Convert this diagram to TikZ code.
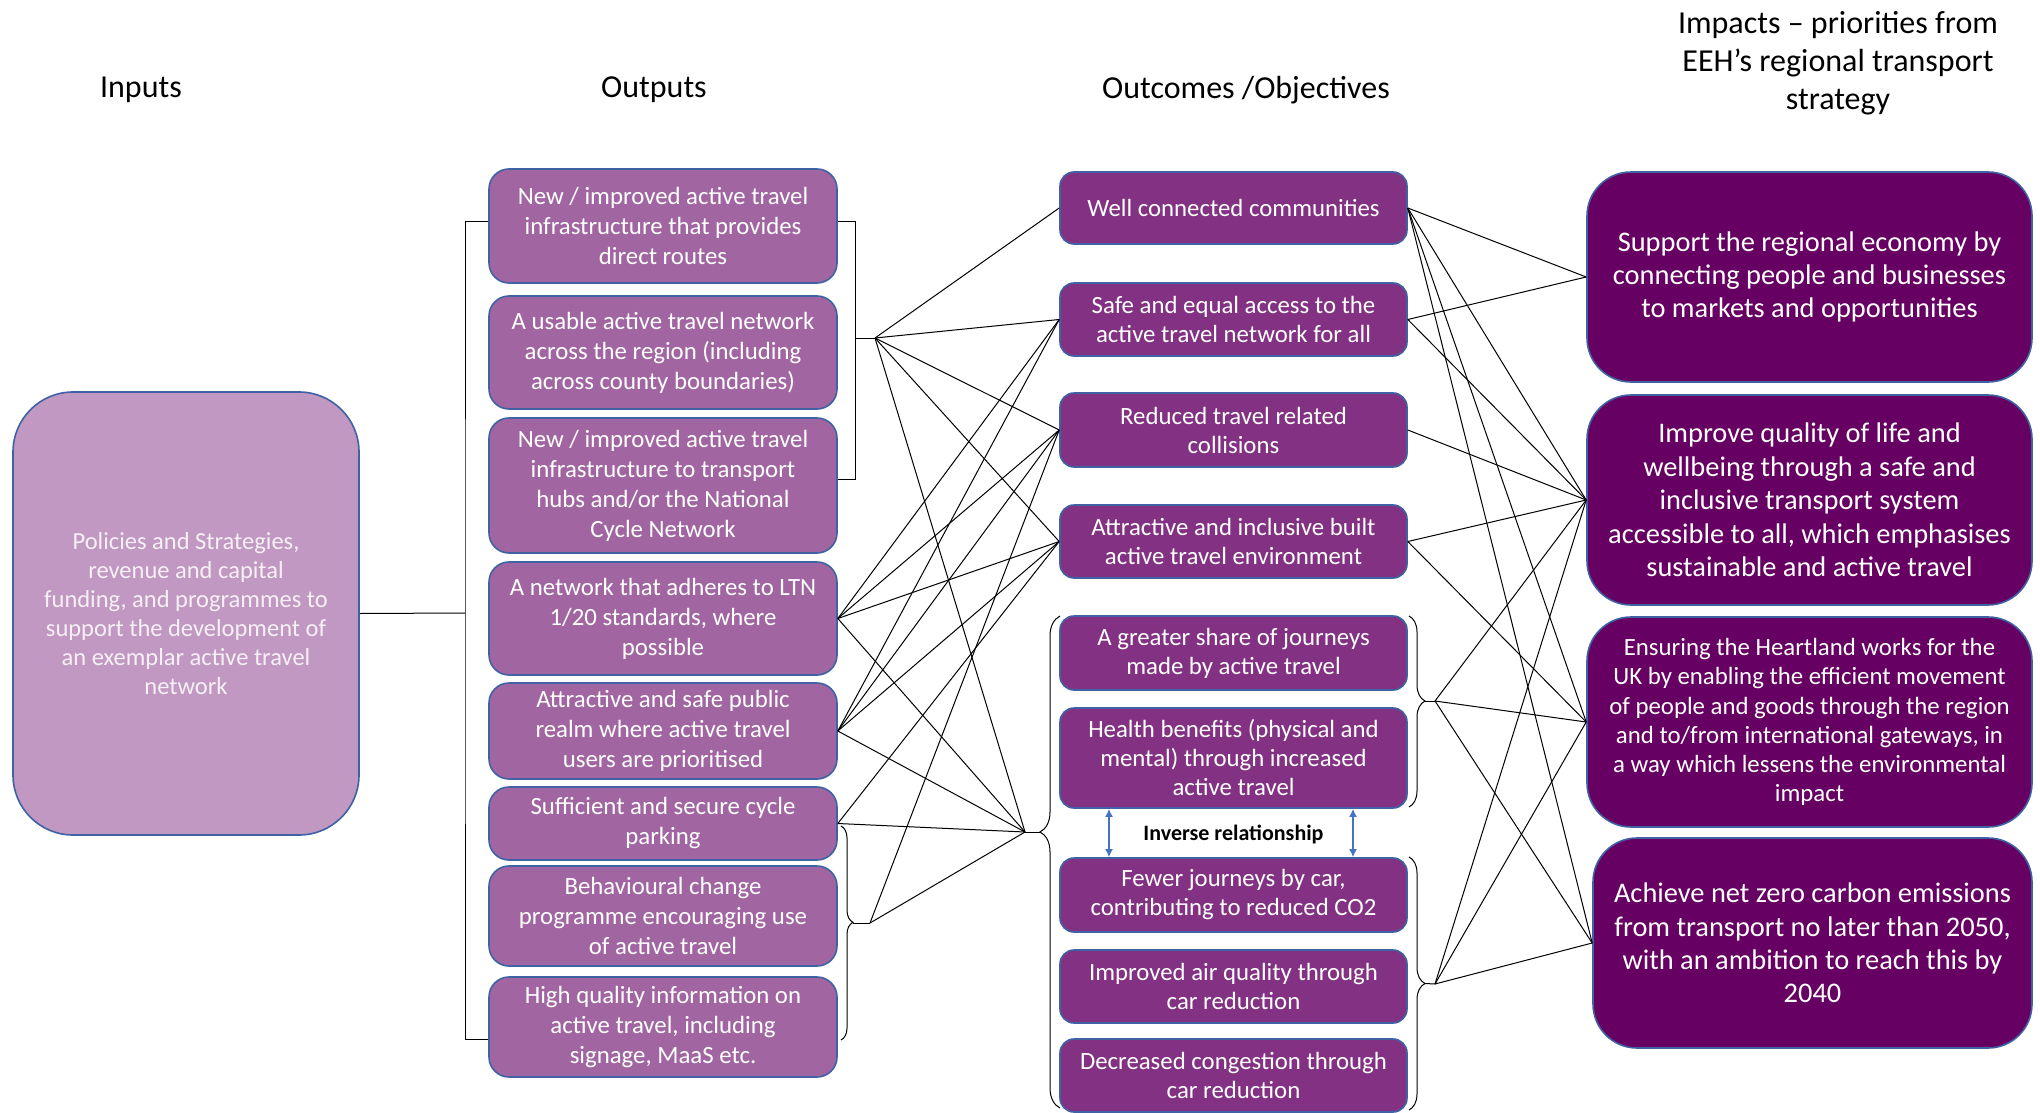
\documentclass[tikz,border=0pt]{standalone}
\usepackage{fontspec}
\setmainfont{Carlito}
\usetikzlibrary{decorations.pathreplacing,arrows.meta}

\definecolor{bordblue}{RGB}{62,98,164}
\definecolor{incol}{RGB}{193,152,194}
\definecolor{intext}{RGB}{246,240,246}
\definecolor{outcol}{RGB}{161,102,161}
\definecolor{occol}{RGB}{131,50,131}
\definecolor{imcol}{RGB}{102,0,98}
\definecolor{arrblue}{RGB}{68,114,196}

\tikzset{
	hdr/.style={align=center, font=\fontsize{16}{19}\selectfont},
	inbox/.style={draw=bordblue, line width=0.8pt, fill=incol, rounded corners=30pt,
		text=intext, align=center, inner sep=0pt, font=\fontsize{12.25}{14.5}\selectfont},
	outbox/.style={draw=bordblue, line width=0.8pt, fill=outcol, rounded corners=10pt,
		minimum width=174pt, text=white, align=center, inner sep=0pt,
		font=\fontsize{12.4}{15}\selectfont},
	ocbox/.style={draw=bordblue, line width=0.8pt, fill=occol, rounded corners=7pt,
		minimum width=173.5pt, text=white, align=center, inner sep=0pt,
		font=\fontsize{12.4}{14.5}\selectfont},
	imbox/.style={draw=bordblue, line width=0.8pt, fill=imcol, rounded corners=22pt,
		minimum height=105pt, text=white, align=center, inner sep=0pt,
		font=\fontsize{14.2}{16.7}\selectfont},
	link/.style={line width=0.5pt, black},
	brc/.style={decorate, decoration={brace, amplitude=#1}},
	invarr/.style={line width=0.8pt, arrblue, {Latex[length=4pt,width=4pt]}-{Latex[length=4pt,width=4pt]}}
}

\begin{document}
\begin{tikzpicture}[x=0.5pt,y=-0.5pt]
	\useasboundingbox (0,0) rectangle (2040,1113);

	% column headings
	\node[hdr] (hin) at (141,90) {Inputs};
	\node[hdr] (hout) at (654,90) {Outputs};
	\node[hdr] (hoc) at (1246,90) {Outcomes /Objectives};
	\node[hdr] (him) at (1838,63) {Impacts -- priorities from\\EEH’s regional transport\\strategy};

	% inputs
	\node[inbox, minimum width=173pt, minimum height=221.5pt] (in) at (186,613.5)
		{Policies and Strategies,\\revenue and capital\\funding, and programmes to\\support the development of\\an exemplar active travel\\network};

	% outputs
	\node[outbox, minimum height=57pt] (out1) at (663,226)
		{New / improved active travel\\infrastructure that provides\\direct routes};
	\node[outbox, minimum height=56.5pt] (out2) at (663,352.5)
		{A usable active travel network\\across the region (including\\across county boundaries)};
	\node[outbox, minimum height=67.5pt] (out3) at (663,485.5)
		{New / improved active travel\\infrastructure to transport\\hubs and/or the National\\Cycle Network};
	\node[outbox, minimum height=56.5pt] (out4) at (663,618.5)
		{A network that adheres to LTN\\1/20 standards, where\\possible};
	\node[outbox, minimum height=48pt] (out5) at (663,731)
		{Attractive and safe public\\realm where active travel\\users are prioritised};
	\node[outbox, minimum height=36.5pt] (out6) at (663,823.5)
		{Sufficient and secure cycle\\parking};
	\node[outbox, minimum height=50pt] (out7) at (663,916)
		{Behavioural change\\programme encouraging use\\of active travel};
	\node[outbox, minimum height=50pt] (out8) at (663,1027)
		{High quality information on\\active travel, including\\signage, MaaS etc.};

	% outcomes
	\node[ocbox, minimum height=36pt] (oc1) at (1233.5,208) {Well connected communities};
	\node[ocbox, minimum height=36.5pt] (oc2) at (1233.5,319.5)
		{Safe and equal access to the\\active travel network for all};
	\node[ocbox, minimum height=37pt] (oc3) at (1233.5,430)
		{Reduced travel related\\collisions};
	\node[ocbox, minimum height=36.5pt] (oc4) at (1233.5,541.5)
		{Attractive and inclusive built\\active travel environment};
	\node[ocbox, minimum height=37pt] (oc5) at (1233.5,653)
		{A greater share of journeys\\made by active travel};
	\node[ocbox, minimum height=50pt] (oc6) at (1233.5,758)
		{Health benefits (physical and\\mental) through increased\\active travel};
	\node[ocbox, minimum height=37pt] (oc7) at (1233.5,895)
		{Fewer journeys by car,\\contributing to reduced CO2};
	\node[ocbox, minimum height=36.5pt] (oc8) at (1233.5,986.5)
		{Improved air quality through\\car reduction};
	\node[ocbox, minimum height=36.5pt] (oc9) at (1233.5,1075.5)
		{Decreased congestion through\\car reduction};

	\node[font=\fontsize{11}{13}\selectfont\bfseries] (inv) at (1233.5,834) {Inverse relationship};
	\coordinate (ia) at (1109,0);
	\coordinate (ib) at (1353,0);
	\draw[invarr] (oc6.south -| ia) -- (oc7.north -| ia);
	\draw[invarr] (oc6.south -| ib) -- (oc7.north -| ib);

	% impacts
	\node[imbox, minimum width=222.5pt] (im1) at (1809.5,277)
		{Support the regional economy by\\connecting people and businesses\\to markets and opportunities};
	\node[imbox, minimum width=222.5pt] (im2) at (1809.5,500)
		{Improve quality of life and\\wellbeing through a safe and\\inclusive transport system\\accessible to all, which emphasises\\sustainable and active travel};
	\node[imbox, minimum width=222.5pt, font=\fontsize{12.4}{14.6}\selectfont] (im3) at (1809.5,722)
		{Ensuring the Heartland works for the\\UK by enabling the efficient movement\\of people and goods through the region\\and to/from international gateways, in\\a way which lessens the environmental\\impact};
	\node[imbox, minimum width=219.5pt] (im4) at (1812.5,943)
		{Achieve net zero carbon emissions\\from transport no later than 2050,\\with an ambition to reach this by\\2040};

	% bracket points
	\coordinate (inb) at (465,613);
	\coordinate (brA) at (855,338);
	\coordinate (p1) at (875,338);
	\coordinate (bB) at (853,923);
	\coordinate (p2) at (870,923);
	\coordinate (bC) at (1040,832);
	\coordinate (p3) at (1025,832);
	\coordinate (bD) at (1425,701);
	\coordinate (p4) at (1435,701);
	\coordinate (bE) at (1425,983.5);
	\coordinate (p5) at (1435,984);

	% brackets
	\draw[link] (in.east) -- (inb);
	\draw[link] ([yshift=2.5pt]out1.west) -| (inb) |- ([yshift=-6pt]out8.west);
	\draw[link] ([yshift=2.5pt]out1.east) -| (brA) |- ([yshift=3pt]out3.east);
	\draw[link] (brA) -- (p1);
	\draw[link, brc=6pt, decoration={aspect=0.45}] (841,826) -- (841,1040);
	\draw[link] (bB) -- (p2);
	\draw[link, brc=10pt, decoration={aspect=0.561}] (1060,1108) -- (1060,616);
	\draw[link] (bC) -- (p3);
	\draw[link, brc=8pt, decoration={aspect=0.445}] (1409,616) -- (1409,807);
	\draw[link] (bD) -- (p4);
	\draw[link, brc=8pt, decoration={aspect=0.5}] (1409,857) -- (1409,1110);
	\draw[link] (bE) -- (p5);

	% outputs to outcomes
	\foreach \a/\b in {p1/oc1.west, p1/oc2.west, p1/oc3.west, p1/oc4.west, p1/p3,
		out4.east/oc2.west, out4.east/oc3.west, out4.east/oc4.west, out4.east/p3,
		out5.east/oc2.west, out5.east/oc3.west, out5.east/oc4.west, out5.east/p3,
		out6.east/oc4.west, out6.east/p3,
		p2/oc3.west, p2/p3}
		\draw[link] (\a) -- (\b);

	% outcomes to impacts
	\foreach \a/\b in {oc1.east/im1.west, oc1.east/im2.west, oc1.east/im3.west, oc1.east/im4.west,
		oc2.east/im1.west, oc2.east/im2.west, oc3.east/im2.west,
		oc4.east/im2.west, oc4.east/im3.west,
		p4/im2.west, p4/im3.west, p4/im4.west,
		p5/im2.west, p5/im3.west, p5/im4.west}
		\draw[link] (\a) -- (\b);
\end{tikzpicture}
\end{document}
